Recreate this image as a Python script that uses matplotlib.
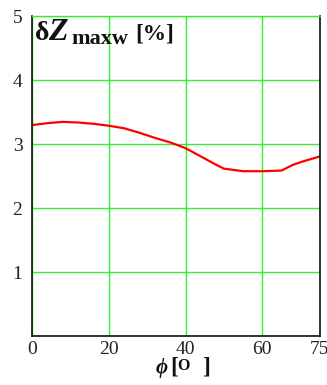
import matplotlib
matplotlib.use("Agg")
import matplotlib.pyplot as plt

phi = [0, 4, 8, 12, 16, 20, 24, 28, 32, 36, 40, 44, 48, 50, 55, 60, 65, 68, 71, 75]
dz = [3.30, 3.33, 3.35, 3.34, 3.32, 3.29, 3.25, 3.18, 3.10, 3.03, 2.94, 2.81, 2.68, 2.62, 2.58, 2.58, 2.59, 2.68, 2.74, 2.81]
xticks = [0, 20, 40, 60, 75]
yticks = [0, 1, 2, 3, 4, 5]
ytick_labels = ["", "1", "2", "3", "4", "5"]

plt.rcParams["font.family"] = ["Liberation Serif", "DejaVu Serif"]
plt.rcParams["mathtext.fontset"] = "custom"
plt.rcParams["mathtext.rm"] = "Liberation Serif:bold"
plt.rcParams["mathtext.bf"] = "Liberation Serif:bold"
plt.rcParams["mathtext.it"] = "Liberation Serif:bold:italic"

W, H = 327, 385
fig = plt.figure(figsize=(W / 100, H / 100), dpi=100)
ax = fig.add_axes([0.098, 0.126, 0.880, 0.832])

green = "#33ee33"
ink = "#111111"
ax.set_xlim(0, 75)
ax.set_ylim(0, 5)
ax.set_xticks(xticks)
ax.set_yticks(yticks)
ax.set_yticklabels(ytick_labels)
ax.grid(True, color=green, linewidth=1.0)
ax.set_axisbelow(True)
ax.tick_params(length=0, labelsize=14, colors="#222222")
ax.tick_params(axis="y", pad=7)
ax.tick_params(axis="x", pad=3)
for s in ["left", "bottom", "right"]:
    ax.spines[s].set_color(ink)
    ax.spines[s].set_linewidth(1.2)
ax.spines["top"].set_color(green)
ax.spines["top"].set_linewidth(1.0)

ax.plot(phi, dz, color="#ff0000", linewidth=1.6)


def ptext(x, y, s, **kw):
    fig.text(x / W, 1 - y / H, s, ha="left", va="baseline", color=ink,
             fontweight="bold", **kw)


# title "δZmaxw [%]" inside the axes
ptext(35, 40.5, "δ", fontsize=20)
ptext(48, 40.5, "Z", fontsize=23, fontstyle="italic")
ptext(71, 43.5, "maxw", fontsize=16)
ptext(135, 39.5, "[%]", fontsize=16.8)

# x-axis label "ϕ [O]"
ptext(155, 373, r"$\phi$", fontsize=15)
ptext(170, 373, "[", fontsize=17)
ptext(177, 370.5, "O", fontsize=11.5)
ptext(202, 373, "]", fontsize=17)

fig.savefig("out.png", dpi=100)
